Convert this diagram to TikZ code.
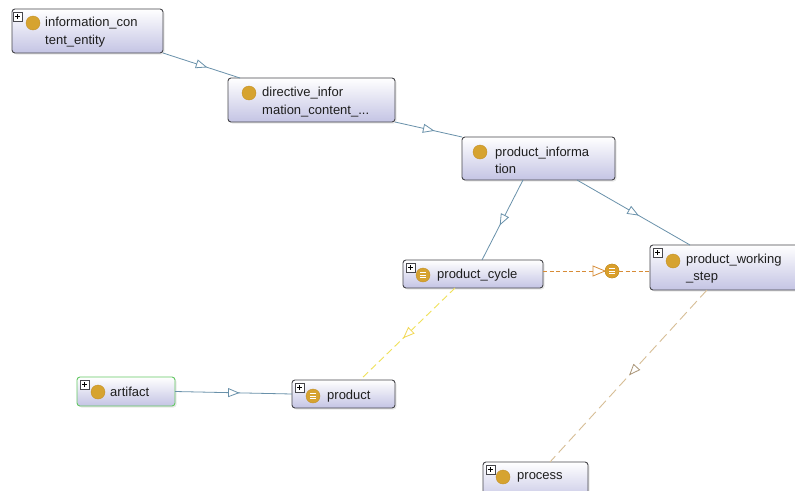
\documentclass[tikz,border=0pt]{standalone}
\usepackage{fontspec}
\setmainfont{Liberation Sans}
\usetikzlibrary{arrows.meta,decorations.markings,shadows}
\definecolor{edgeblue}{RGB}{105,145,170}
\definecolor{boxborder}{RGB}{70,70,75}
\definecolor{boxbottom}{RGB}{196,196,228}
\definecolor{gold}{RGB}{214,163,48}
\definecolor{goldrim}{RGB}{196,145,40}
\definecolor{dashorange}{RGB}{215,140,55}
\definecolor{dashyellow}{RGB}{240,225,90}
\definecolor{dashtan}{RGB}{215,190,150}
\definecolor{tanhead}{RGB}{170,150,120}
\definecolor{greenrim}{RGB}{100,200,100}
\definecolor{txt}{RGB}{30,30,30}
\tikzset{
  box/.style={draw=boxborder, line width=0.9pt, rounded corners=3pt, top color=white, bottom color=boxbottom, anchor=north west, inner sep=0pt, outer sep=0pt, drop shadow={opacity=0.18, shadow xshift=1.5pt, shadow yshift=-1.5pt}},
  lbl/.style={anchor=west, inner sep=0pt, text=txt, font=\fontsize{13}{17.5}\selectfont, align=left},
  dot/.style={circle, fill=gold, draw=goldrim, line width=0.4pt, minimum size=14pt, inner sep=0pt},
  plusbox/.style={draw=boxborder, fill=white, line width=0.5pt, minimum size=8.5pt, inner sep=0pt, anchor=north west,
    path picture={\draw[line width=0.7pt,black] ([xshift=1.8pt]path picture bounding box.west) -- ([xshift=-1.8pt]path picture bounding box.east);
                  \draw[line width=0.7pt,black] ([yshift=1.8pt]path picture bounding box.south) -- ([yshift=-1.8pt]path picture bounding box.north);}},
  eqdot/.style={dot, path picture={
     \foreach \dy in {-2.3,0,2.3}{\draw[white, line width=0.9pt] ([xshift=-3pt,yshift=\dy pt]path picture bounding box.center) -- ([xshift=3pt,yshift=\dy pt]path picture bounding box.center);}}},
  isa/.style={draw=edgeblue, line width=0.8pt, postaction={decorate},
    decoration={markings, mark=at position 0.5 with {\draw[solid, draw=edgeblue, fill=white, line width=0.8pt] (-5pt,-4pt) -- (5pt,0pt) -- (-5pt,4pt) -- cycle;}}},
  ydash/.style={draw=dashyellow, line width=0.9pt, dash pattern=on 7pt off 4pt, postaction={decorate},
    decoration={markings, mark=at position 0.5 with {\draw[solid, draw=dashyellow!90!orange, fill=white, line width=0.8pt] (-5pt,-4pt) -- (5pt,0pt) -- (-5pt,4pt) -- cycle;}}},
  tdash/.style={draw=dashtan, line width=0.9pt, dash pattern=on 10pt off 5pt, postaction={decorate},
    decoration={markings, mark=at position 0.47 with {\draw[solid, draw=tanhead, fill=white, line width=0.8pt] (-5pt,-4pt) -- (5pt,0pt) -- (-5pt,4pt) -- cycle;}}},
  odash/.style={draw=dashorange, line width=0.9pt, dash pattern=on 4pt off 2.5pt},
}
\begin{document}
\begin{tikzpicture}[x=1pt,y=-1pt]
\useasboundingbox[fill=white] (0,0) rectangle (795,490);

% boxes
\node[box, minimum width=151pt, minimum height=44pt] (ice) at (12,9) {};
\node[box, minimum width=167pt, minimum height=44pt] (dir) at (228,78) {};
\node[box, minimum width=153pt, minimum height=43pt] (pinf) at (462,137) {};
\node[box, minimum width=140pt, minimum height=28pt] (pc) at (403,260) {};
\node[box, minimum width=160pt, minimum height=45pt] (pws) at (650,245) {};
\node[box, draw=greenrim, minimum width=98pt, minimum height=29pt] (art) at (77,377) {};
\node[box, minimum width=103pt, minimum height=28pt] (prod) at (292,380) {};
\node[box, minimum width=105pt, minimum height=40pt] (proc) at (483,462) {};

% edges
\draw[isa] (ice.south east) -- ([xshift=12pt]dir.north west);
\draw[isa] (dir.south east) -- (pinf.north west);
\draw[isa] ([xshift=-15.5pt]pinf.south) -- ([xshift=9pt]pc.north);
\draw[isa] ([xshift=38.5pt]pinf.south) -- ([xshift=40pt]pws.north west);
\draw[isa] (art.east) -- (prod.west);
\draw[ydash] ([xshift=-18pt]pc.south) -- ([xshift=68pt]prod.north west);
\draw[tdash] ([xshift=57pt]pws.south west) -- ([xshift=67pt]proc.north west);

% object property edge
\node[eqdot, fill=gold!90!orange] (pcicon) at (612,271) {};
\draw[odash] ([yshift=3pt]pc.east) -- (pcicon.west);
\draw[odash] (pcicon.east) -- ([yshift=-3.5pt]pws.west);
\draw[draw=dashorange, line width=0.8pt, fill=white] (593,266) -- (605,271) -- (593,276) -- cycle;
\node[eqdot, fill=gold!90!orange] at (pcicon) {};

% plus boxes
\node[plusbox] (p1) at (13,12) {};
\node[plusbox] (p2) at (406,263) {};
\node[plusbox] (p3) at (653,248) {};
\node[plusbox] (p4) at (80,380) {};
\node[plusbox] (p5) at (295,383) {};
\node[plusbox] (p6) at (486,465) {};

% icons
\node[dot] (d1) at (33,23) {};
\node[dot] (d2) at (249,93) {};
\node[dot] (d3) at (480,152) {};
\node[eqdot] (d4) at (423,275) {};
\node[dot] (d5) at (673,261) {};
\node[dot] (d6) at (98,392) {};
\node[eqdot] (d7) at (313,396) {};
\node[dot] (d8) at (503,477) {};

% labels
\node[lbl] (t1) at (45,32) {information\_con\\tent\_entity};
\node[lbl] (t2) at (262,102) {directive\_infor\\mation\_content\_...};
\node[lbl] (t3) at (495,160.5) {product\_informa\\tion};
\node[lbl] (t4) at (437,275) {product\_cycle};
\node[lbl] (t5) at (686,268.5) {product\_working\\\_step};
\node[lbl] (t6) at (110,392) {artifact};
\node[lbl] (t7) at (327,396) {product};
\node[lbl] (t8) at (517,477) {process};
\end{tikzpicture}
\end{document}
